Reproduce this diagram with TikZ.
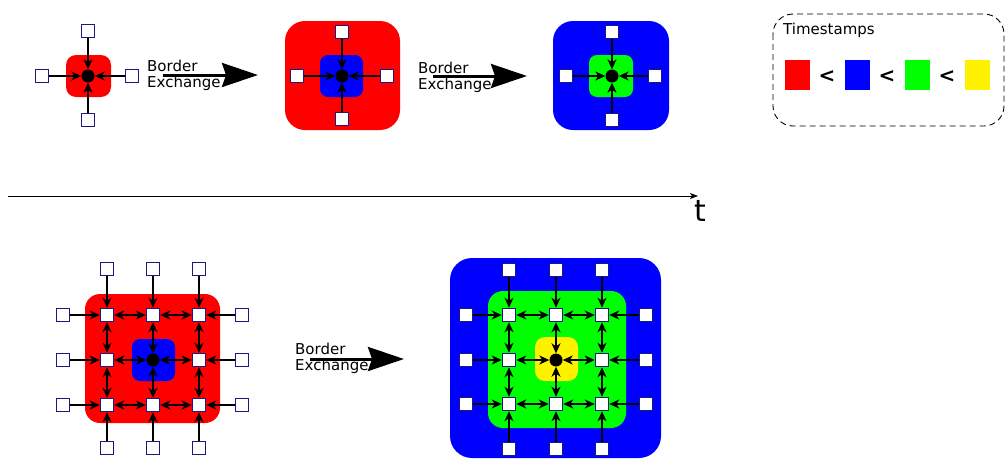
\documentclass[tikz,border=0pt]{standalone}
\usepackage{fontspec}
\setmainfont{DejaVu Sans}
\usetikzlibrary{arrows.meta}
\definecolor{rahmen}{rgb}{0.1,0.1,0.5}
\tikzset{
	zelle/.style={draw=rahmen, fill=white, line width=1pt, minimum size=13.5pt, inner sep=0pt},
	kern/.style={circle, fill=black, minimum size=13pt, inner sep=0pt},
	pfeil/.style={-{Stealth[length=10pt,width=9pt,inset=3pt]}, line width=1.5pt},
	doppel/.style={{Stealth[length=10pt,width=9pt,inset=3pt]}-{Stealth[length=10pt,width=9pt,inset=3pt]}, line width=1.5pt},
	austausch/.style={-{Stealth[length=36pt,width=24pt,inset=4pt]}, line width=3pt},
	beschr/.style={anchor=north west, align=left, inner sep=0pt, font=\fontsize{15}{15.5}\selectfont},
	farbe/.style={minimum width=25pt, minimum height=30pt, inner sep=0pt},
	kleiner/.style={inner sep=0pt, font=\fontsize{20}{22}\selectfont\bfseries}
}
\begin{document}
\begin{tikzpicture}[x=1pt, y=-1pt]
	\useasboundingbox (0,0) rectangle (1007,461);
	% Schritt 1
	\fill[red, rounded corners=10pt] (66,55) rectangle (111,97);
	\node[kern] (k1) at (88,76) {};
	\node[zelle] (k1n) at (88,31) {};
	\node[zelle] (k1w) at (42,76) {};
	\node[zelle] (k1o) at (132,76) {};
	\node[zelle] (k1s) at (88,120) {};
	\foreach \r in {n,w,o,s}
		\draw[pfeil] (k1\r) -- (k1);
	% Schritt 2
	\fill[red, rounded corners=20pt] (285,21) rectangle (400,130);
	\fill[blue, rounded corners=8pt] (320,55) rectangle (363,97);
	\node[kern] (k2) at (342,76) {};
	\node[zelle] (k2n) at (342,32) {};
	\node[zelle] (k2w) at (297,76) {};
	\node[zelle] (k2o) at (387,76) {};
	\node[zelle] (k2s) at (342,119) {};
	\foreach \r in {n,w,o,s}
		\draw[pfeil] (k2\r) -- (k2);
	% Schritt 3
	\fill[blue, rounded corners=20pt] (553,21) rectangle (669,130);
	\fill[green, rounded corners=8pt] (589,55) rectangle (633,97);
	\node[kern] (k3) at (612,76) {};
	\node[zelle] (k3n) at (612,32) {};
	\node[zelle] (k3w) at (566,76) {};
	\node[zelle] (k3o) at (655,76) {};
	\node[zelle] (k3s) at (612,120) {};
	\foreach \r in {n,w,o,s}
		\draw[pfeil] (k3\r) -- (k3);
	% Randaustausch oben
	\node[beschr] (ex1) at (147,60) {Border\\Exchange};
	\coordinate (ex1a) at (163,75);
	\coordinate (ex1b) at (258,75);
	\draw[austausch] (ex1a) -- (ex1b);
	\node[beschr] (ex2) at (418,62) {Border\\Exchange};
	\coordinate (ex2a) at (433,76);
	\coordinate (ex2b) at (527,76);
	\draw[austausch] (ex2a) -- (ex2b);
	% Legende
	\draw[dashed, dash pattern=on 6pt off 4pt, line width=0.9pt, rounded corners=20pt] (773,14) rectangle (1004,126);
	\node[beschr] (zeit) at (783,23) {Timestamps};
	\node[farbe, fill=red] (ts1) at (797.5,75) {};
	\node[farbe, fill=blue] (ts2) at (857.5,75) {};
	\node[farbe, fill=green] (ts3) at (917.5,75) {};
	\node[farbe, fill=yellow] (ts4) at (977.5,75) {};
	\node[kleiner] (lt1) at (827,77) {<};
	\node[kleiner] (lt2) at (887,77) {<};
	\node[kleiner] (lt3) at (947,77) {<};
	% Zeitachse
	\coordinate (t0) at (8,196);
	\coordinate (t1) at (698,196);
	\draw[-{Stealth[length=8pt,width=6pt,inset=2pt]}, line width=0.9pt] (t0) -- (t1);
	\node[anchor=north west, inner sep=0pt, font=\fontsize{30}{32}\selectfont] (tl) at (694,200) {t};
	% Gitter links
	\fill[red, rounded corners=15pt] (85,294) rectangle (220,423);
	\fill[blue, rounded corners=8pt] (132,339) rectangle (175,381);
	\foreach \i/\x in {1/107,2/153,3/199}
		\foreach \j/\y in {1/315,2/360,3/405}{
			\ifnum\i\j=22
				\node[kern] (a\i\j) at (\x,\y) {};
			\else
				\node[zelle] (a\i\j) at (\x,\y) {};
			\fi
		}
	\foreach \i/\x in {1/107,2/153,3/199}{
		\node[zelle] (an\i) at (\x,269) {};
		\node[zelle] (as\i) at (\x,448) {};
		\draw[pfeil] (an\i) -- (a\i1);
		\draw[pfeil] (as\i) -- (a\i3);
	}
	\foreach \j/\y in {1/315,2/360,3/405}{
		\node[zelle] (aw\j) at (63,\y) {};
		\node[zelle] (ao\j) at (242,\y) {};
		\draw[pfeil] (aw\j) -- (a1\j);
		\draw[pfeil] (ao\j) -- (a3\j);
	}
	\foreach \a/\b in {1/2,2/3}
		\foreach \c in {1,2,3}{
			\draw[doppel] (a\a\c) -- (a\b\c);
			\draw[doppel] (a\c\a) -- (a\c\b);
		}
	% Randaustausch unten
	\node[beschr] (ex3) at (295,343) {Border\\Exchange};
	\coordinate (ex3a) at (310,359);
	\coordinate (ex3b) at (404,359);
	\draw[austausch] (ex3a) -- (ex3b);
	% Gitter rechts
	\fill[blue, rounded corners=22pt] (450,258) rectangle (661,458);
	\fill[green, rounded corners=15pt] (488,291) rectangle (626,428);
	\fill[yellow, rounded corners=10pt] (535,337) rectangle (578,381);
	\foreach \i/\x in {1/509,2/556,3/602}
		\foreach \j/\y in {1/315,2/360,3/404}{
			\ifnum\i\j=22
				\node[kern] (b\i\j) at (\x,\y) {};
			\else
				\node[zelle] (b\i\j) at (\x,\y) {};
			\fi
		}
	\foreach \i/\x in {1/509,2/556,3/602}{
		\node[zelle] (bn\i) at (\x,270) {};
		\node[zelle] (bs\i) at (\x,449) {};
		\draw[pfeil] (bn\i) -- (b\i1);
		\draw[pfeil] (bs\i) -- (b\i3);
	}
	\foreach \j/\y in {1/315,2/360,3/404}{
		\node[zelle] (bw\j) at (466,\y) {};
		\node[zelle] (bo\j) at (646,\y) {};
		\draw[pfeil] (bw\j) -- (b1\j);
		\draw[pfeil] (bo\j) -- (b3\j);
	}
	\foreach \a/\b in {1/2,2/3}
		\foreach \c in {1,2,3}{
			\draw[doppel] (b\a\c) -- (b\b\c);
			\draw[doppel] (b\c\a) -- (b\c\b);
		}
\end{tikzpicture}
\end{document}
